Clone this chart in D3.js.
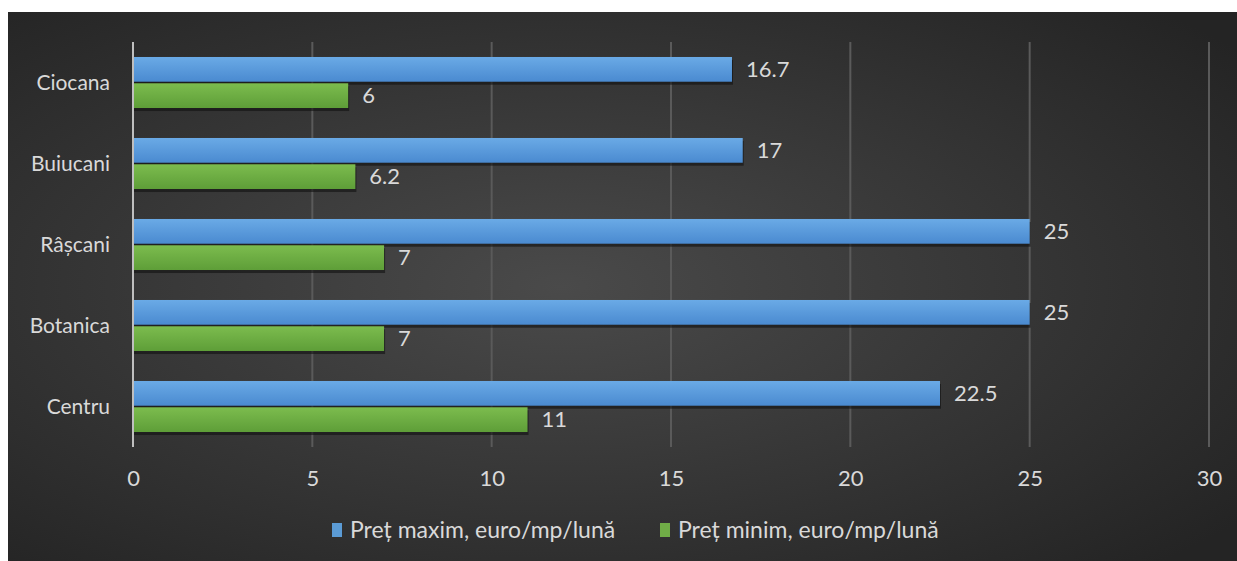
<!DOCTYPE html>
<html><head><meta charset="utf-8">
<script src="https://cdn.jsdelivr.net/npm/d3@7"></script>
<style>html,body{margin:0;padding:0;background:#fff;}svg{display:block;}</style>
</head><body>
<svg id="c" width="1237" height="561"></svg>
<script>
const categories = ["Ciocana","Buiucani","Râșcani","Botanica","Centru"];
const seriesNames = ["Preț maxim, euro/mp/lună","Preț minim, euro/mp/lună"];
const maxValues = [16.7, 17, 25, 25, 22.5];
const minValues = [6, 6.2, 7, 7, 11];
const xTicks = [0,5,10,15,20,25,30];

const svg = d3.select("#c");
const font = "Lato, 'Open Sans', sans-serif";
const defs = svg.append("defs");
const bg = defs.append("radialGradient").attr("id","bg").attr("cx","45%").attr("cy","50%").attr("r","70%");
bg.append("stop").attr("offset","0%").attr("stop-color","#4a4a4a");
bg.append("stop").attr("offset","100%").attr("stop-color","#242424");
const gb = defs.append("linearGradient").attr("id","gb").attr("x1",0).attr("y1",0).attr("x2",0).attr("y2",1);
gb.append("stop").attr("offset","0%").attr("stop-color","#6aaae6");
gb.append("stop").attr("offset","100%").attr("stop-color","#4a8ad0");
const gg = defs.append("linearGradient").attr("id","gg").attr("x1",0).attr("y1",0).attr("x2",0).attr("y2",1);
gg.append("stop").attr("offset","0%").attr("stop-color","#7cbc4e");
gg.append("stop").attr("offset","100%").attr("stop-color","#5e9e38");

svg.append("rect").attr("x",8).attr("y",12).attr("width",1229).attr("height",549).attr("fill","url(#bg)");

const x = d3.scaleLinear().domain([0,30]).range([133,1209]);
const y = d3.scaleBand().domain(categories).range([42,447]).paddingInner(0.37).paddingOuter(0.185);
const sub = d3.scaleBand().domain([0,1]).range([0,y.bandwidth()]).paddingInner(0.06);

// gridlines
svg.append("g").selectAll("line").data(xTicks.slice(1)).join("line")
  .attr("x1",d=>x(d)).attr("x2",d=>x(d)).attr("y1",42).attr("y2",447)
  .attr("stroke","#5a5a5a").attr("stroke-width",2);

const colors = ["url(#gb)","url(#gg)"];
const solid = ["#5b9bd5","#70ad47"];
const data = [maxValues, minValues];
data.forEach((vals,si)=>{
  const g = svg.append("g");
  g.selectAll("rect.s").data(vals).join("rect").attr("class","s")
    .attr("x",x(0)).attr("y",(d,i)=>y(categories[i])+sub(si)+3)
    .attr("width",d=>x(d)-x(0)+1).attr("height",sub.bandwidth())
    .attr("fill","#111").attr("opacity",0.6);
  g.selectAll("rect.b").data(vals).join("rect").attr("class","b")
    .attr("x",x(0)).attr("y",(d,i)=>y(categories[i])+sub(si))
    .attr("width",d=>x(d)-x(0)).attr("height",sub.bandwidth())
    .attr("fill",colors[si]);
  g.selectAll("text").data(vals).join("text")
    .attr("x",d=>x(d)+14).attr("y",(d,i)=>y(categories[i])+sub(si)+sub.bandwidth()/2)
    .attr("dy","0.35em").attr("fill","#d9d9d9").attr("font-family",font).attr("font-size",22)
    .text(d=>d);
});

// y axis line
svg.append("line").attr("x1",x(0)).attr("x2",x(0)).attr("y1",42).attr("y2",447)
  .attr("stroke","#bfbfbf").attr("stroke-width",2);

// category labels
svg.append("g").selectAll("text").data(categories).join("text")
  .attr("x",110).attr("y",d=>y(d)+y.bandwidth()/2).attr("dy","0.35em")
  .attr("text-anchor","end").attr("fill","#d9d9d9").attr("font-family",font).attr("font-size",21)
  .text(d=>d);

// x axis
const xa = svg.append("g").attr("transform","translate(0,478)")
  .call(d3.axisBottom(x).tickValues(xTicks).tickSize(0).tickPadding(0));
xa.select(".domain").remove();
xa.selectAll("text").attr("fill","#d9d9d9").attr("font-family",font).attr("font-size",22).attr("dy","0.35em");

// legend
const leg = svg.append("g").attr("font-family",font).attr("font-size",23).attr("fill","#d9d9d9");
const lx = [332, 660];
seriesNames.forEach((n,i)=>{
  leg.append("rect").attr("x",lx[i]).attr("y",523).attr("width",10).attr("height",14).attr("fill",solid[i]);
  leg.append("text").attr("x",lx[i]+18).attr("y",530).attr("dy","0.35em").attr("fill","#d9d9d9").text(n);
});
</script>
</body></html>
